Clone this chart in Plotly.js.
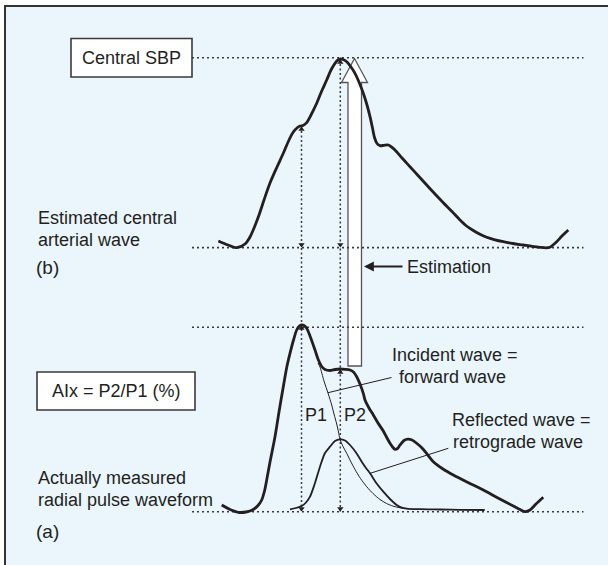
<!DOCTYPE html>
<html>
<head>
<meta charset="utf-8">
<script src="https://cdn.plot.ly/plotly-3.0.1.min.js"></script>
<style>html,body{margin:0;padding:0;background:#fff;}#chart{width:608px;height:565px;}</style>
</head>
<body>
<div id="chart"></div>
<script>
// ---- Data (diagram coordinates) ----
// (b) Estimated central arterial wave
const centralX = [218.3,228,236.7,245,250,258.3,264,270,277,283.3,289,293.3,297.5,300,303,306.7,311,316.7,321.5,326.7,331,335,338,340.5,343,346.7,351,355,359,363.3,367,370,372.5,374.5,377,380,384,388.3,391.5,395,402,410,418,426.7,435,443.3,452,460,466.5,473.3,480,486.7,495,503.3,513,523.3,532,540,546,550,553,556.7,562,568.3];
const centralY = [241,245,247.7,244,237,217,200,183,167,153.3,140,132,127.5,126,125.5,122.7,115,103.3,91.5,80,70,63.3,60,59,59.5,61.7,67,73.3,82,93.3,105,116.7,128,137.5,143.5,145.7,145.3,145,147,150,158,166.7,175.5,185,194,202.7,211.5,220,226,230.5,234.3,237.3,239.8,241.7,243.5,245,246.3,247.3,247.8,247.3,245,241.7,236,230];
// (a) Actually measured radial pulse waveform
const radialX = [221.7,230,238.3,246,253.3,258,261.7,264.5,266.7,270,275,279,283.3,287,290,293.5,296.7,299,301.7,304,306.7,310,315,318,321.7,325,330,335,340,345,350,353.5,356.7,360,363.3,365,369,373.3,378,383.3,387,390,393,395,397.5,400,404,408,412,417,422,427,433.3,443,453.3,468,483.3,498,513.3,520,525,530,536,543.3];
const radialY = [505,509.5,512.3,512,509.5,505.5,500,491,480,462,436.7,412,386.7,366,353.3,340,330,326.5,325,325.5,328.3,336,350,359,366.5,369.5,370.5,369.5,369,369.3,370,372,376.7,384,393.3,400,408,415,423,431,438,443.3,447.5,449.3,448.5,445,440.5,439.2,440,443.5,448,454,461.7,469,475,482.5,490,498,506,509.5,511.7,510,504,497.3];
// Reflected wave = retrograde wave
const reflectedX = [290,296,301.7,306,310,315,320,325,330,335,340,345,350,356,361.7,366,370,376.7,383.3,390,396.7,401,406.7,420,440,460,484.7];
const reflectedY = [509.3,508,506,502.5,496.7,483,466.7,453,446.7,441,439.3,440.5,445,452.5,461.7,468,473.3,483.5,491.7,499,505,507.3,508.6,509.2,509.5,509.8,510];
// Incident wave = forward wave
const incidentX = [318,320,324,328.3,331.7,334,336.7,338.5,340,343,346.7,350.5,355,360.5,366.7,373,380,386.5,393.3,400,406.7];
const incidentY = [363,367,381,394,405,414,424,432,439.3,446.5,453.3,461,469.5,478.5,486.7,493.5,499.5,503.5,506.2,507.8,508.6];
// Reference levels: central SBP, central baseline, P1 peak, radial baseline
const levelY = [57.7, 247.6, 327.2, 511.7];
const levelXStart = 192, levelXEnd = 583.5;
// Vertical measurement guides (P1 time, P2 time)
const guideX = [301.5, 340.3];
const guideTop = [126.5, 59.5];
// Arrow tips on guides
const upTipX = [301.5, 301.5, 340.3, 340.3];
const upTipY = [126.5, 325.5, 59.5, 369.5];
const downTipX = [301.5, 301.5, 340.3, 340.3];
const downTipY = [247.5, 511.5, 247.5, 511.5];
// Leader lines
const incLeaderX = [391.5, 328], incLeaderY = [377.5, 392.7];
const refLeaderX = [448.3, 369.5], refLeaderY = [448.3, 473.5];

// ---- Drawing ----
const INK = '#231f20';
const FONT = 'Liberation Sans, Arial, sans-serif';
const traces = [];

levelY.forEach(y => traces.push({x:[levelXStart, levelXEnd], y:[y, y], mode:'lines',
  line:{color:'#3a3a3a', width:1.6, dash:'2px,3px'}, hoverinfo:'skip'}));
guideX.forEach((x, i) => traces.push({x:[x, x], y:[guideTop[i], levelY[3]], mode:'lines',
  line:{color:'#3a3a3a', width:1.5, dash:'2px,2.5px'}, hoverinfo:'skip'}));

const R = 2.75;
traces.push({x:upTipX, y:upTipY.map(v => v + R), mode:'markers',
  marker:{symbol:'triangle-up', size:5.5, color:INK}, hoverinfo:'skip'});
traces.push({x:downTipX, y:downTipY.map(v => v - R), mode:'markers',
  marker:{symbol:'triangle-down', size:5.5, color:INK}, hoverinfo:'skip'});

traces.push({x:incLeaderX, y:incLeaderY, mode:'lines', line:{color:INK, width:1}, hoverinfo:'skip'});
traces.push({x:refLeaderX, y:refLeaderY, mode:'lines', line:{color:INK, width:1}, hoverinfo:'skip'});

traces.push({x:incidentX, y:incidentY, mode:'lines', line:{color:INK, width:1, shape:'spline', smoothing:0.8}, hoverinfo:'skip'});
traces.push({x:reflectedX, y:reflectedY, mode:'lines', line:{color:INK, width:1.8, shape:'spline', smoothing:0.8}, hoverinfo:'skip'});
traces.push({x:centralX, y:centralY, mode:'lines', line:{color:INK, width:2.8, shape:'spline', smoothing:0.8}, hoverinfo:'skip'});
traces.push({x:radialX, y:radialY, mode:'lines', line:{color:INK, width:2.8, shape:'spline', smoothing:0.8}, hoverinfo:'skip'});

function txt(t, x, y, xanchor, size) {
  return {text:t, x:x, y:y, xref:'x', yref:'y', xanchor:xanchor || 'left', yanchor:'middle',
    showarrow:false, font:{family:FONT, size:size || 18, color:INK}};
}
const annotations = [
  txt('Central SBP', 131.5, 57.5, 'center'),
  txt('Estimated central', 35.5, 218),
  txt('arterial wave', 35.5, 240),
  txt('(b)', 34, 267, 'left', 19),
  txt('Estimation', 405, 266.5),
  txt('AIx = P2/P1 (%)', 116, 391, 'center'),
  txt('Incident wave =', 455, 355, 'center'),
  txt('forward wave', 452, 377, 'center'),
  txt('Reflected wave =', 521, 420, 'center'),
  txt('retrograde wave', 518, 441.5, 'center'),
  txt('P1', 316, 415, 'center'),
  txt('P2', 354.5, 415, 'center'),
  txt('Actually measured', 35.5, 478),
  txt('radial pulse waveform', 35.5, 499.5),
  txt('(a)', 34, 531, 'left', 19),
  {text:'', x:364, y:266.5, ax:404, ay:266.5, xref:'x', yref:'y', axref:'x', ayref:'y',
    showarrow:true, arrowhead:2, arrowsize:1.1, arrowwidth:1.8, arrowcolor:INK}
];

const shapes = [
  {type:'rect', xref:'x', yref:'y', x0:5, y0:6, x1:650, y1:620, layer:'below',
    fillcolor:'#eaf6fc', line:{color:'#333', width:2}},
  {type:'path', xref:'x', yref:'y', layer:'below',
    path:'M348,366 L348,82.5 L341.5,82.5 L354.5,58.5 L367.5,82.5 L361.5,82.5 L361.5,366 Z',
    fillcolor:'#ffffff', line:{color:'#555', width:1.3}},
  {type:'rect', xref:'x', yref:'y', x0:71, y0:38.5, x1:192, y1:77, layer:'above',
    fillcolor:'#ffffff', line:{color:'#3a3a3a', width:1.6}},
  {type:'rect', xref:'x', yref:'y', x0:37, y0:372, x1:195, y1:410, layer:'above',
    fillcolor:'#ffffff', line:{color:'#3a3a3a', width:1.6}}
];

const layout = {
  width:608, height:565, margin:{l:0, r:0, t:0, b:0},
  paper_bgcolor:'#ffffff', plot_bgcolor:'#ffffff', showlegend:false,
  xaxis:{range:[0,608], visible:false, fixedrange:true},
  yaxis:{range:[565,0], visible:false, fixedrange:true},
  shapes:shapes, annotations:annotations
};
Plotly.newPlot('chart', traces, layout, {staticPlot:true, displayModeBar:false});
</script>
</body>
</html>
